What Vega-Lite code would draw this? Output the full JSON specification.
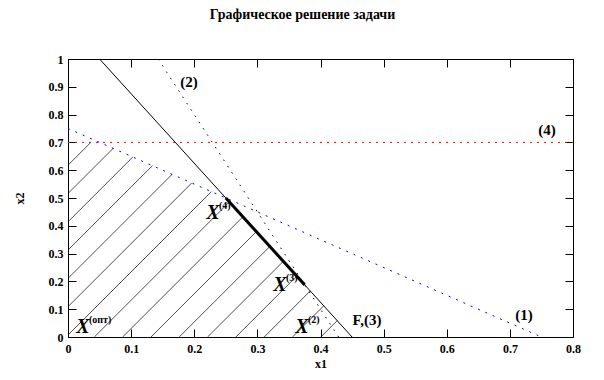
{
  "$schema": "https://vega.github.io/schema/vega-lite/v6.json",
  "width": 505,
  "height": 278,
  "autosize": {"type": "none"},
  "padding": {"left": 68, "top": 59, "right": 31, "bottom": 43},
  "background": "white",
  "title": {
    "text": "Графическое решение задачи",
    "font": "Liberation Serif",
    "fontSize": 14,
    "fontWeight": "bold",
    "color": "black",
    "anchor": "middle",
    "dx": -18,
    "offset": 31
  },
  "config": {
    "view": {"stroke": "black", "strokeWidth": 1},
    "axis": {
      "grid": false,
      "domain": false,
      "tickColor": "black",
      "tickSize": -8,
      "tickWidth": 1,
      "labelFont": "Liberation Serif",
      "labelFontSize": 12,
      "labelFontWeight": "bold",
      "labelColor": "black",
      "titleFont": "Liberation Serif",
      "titleFontSize": 12,
      "titleFontWeight": "bold",
      "titleColor": "black"
    }
  },
  "datasets": {
    "segs": [
      {"id": "1", "x": 0, "y": 0.75, "x2": 0.745, "y2": 0.005},
      {"id": "4", "x": 0, "y": 0.7, "x2": 0.8, "y2": 0.7},
      {"id": "3", "x": 0.05, "y": 1, "x2": 0.45, "y2": 0},
      {"id": "2", "x": 0.142857, "y": 1, "x2": 0.428571, "y2": 0},
      {"id": "opt", "x": 0.25, "y": 0.5, "x2": 0.375, "y2": 0.1875}
    ],
    "hatch": [
      {"k": 6, "x": 0, "y": 0.618, "x2": 0.0361, "y2": 0.7},
      {"k": 5, "x": 0, "y": 0.5162, "x2": 0.0715, "y2": 0.6785},
      {"k": 4, "x": 0, "y": 0.4144, "x2": 0.1026, "y2": 0.6474},
      {"k": 3, "x": 0, "y": 0.3126, "x2": 0.1338, "y2": 0.6162},
      {"k": 2, "x": 0, "y": 0.2108, "x2": 0.1649, "y2": 0.5851},
      {"k": 1, "x": 0, "y": 0.109, "x2": 0.196, "y2": 0.554},
      {"k": 0, "x": 0, "y": 0.0072, "x2": 0.2271, "y2": 0.5229},
      {"k": -1, "x": 0.0417, "y": 0, "x2": 0.2556, "y2": 0.4856},
      {"k": -2, "x": 0.0865, "y": 0, "x2": 0.277, "y2": 0.4324},
      {"k": -3, "x": 0.1314, "y": 0, "x2": 0.2984, "y2": 0.3791},
      {"k": -4, "x": 0.1762, "y": 0, "x2": 0.3197, "y2": 0.3255},
      {"k": -5, "x": 0.2211, "y": 0, "x2": 0.3411, "y2": 0.2723},
      {"k": -6, "x": 0.2659, "y": 0, "x2": 0.3624, "y2": 0.2191},
      {"k": -7, "x": 0.3108, "y": 0, "x2": 0.3837, "y2": 0.1655},
      {"k": -8, "x": 0.3556, "y": 0, "x2": 0.4051, "y2": 0.1122},
      {"k": -9, "x": 0.4005, "y": 0, "x2": 0.4265, "y2": 0.059}
    ],
    "notes": [
      {"t": "(2)", "x": 0.1917, "y": 0.917},
      {"t": "(4)", "x": 0.7588, "y": 0.745},
      {"t": "(1)", "x": 0.7224, "y": 0.079},
      {"t": "F,(3)", "x": 0.4737, "y": 0.061}
    ],
    "points": [
      {"b": "X", "s": "(4)", "x": 0.2297, "y": 0.446},
      {"b": "X", "s": "(3)", "x": 0.3358, "y": 0.187},
      {"b": "X", "s": "(2)", "x": 0.3707, "y": 0.036},
      {"b": "X", "s": "(опт)", "x": 0.0238, "y": 0.036}
    ]
  },
  "resolve": {"axis": {"x": "independent", "y": "independent"}},
  "layer": [
    {
      "data": {"name": "hatch"},
      "mark": {"type": "rule", "color": "black", "strokeWidth": 0.7},
      "encoding": {
        "x": {"field": "x", "type": "quantitative", "scale": {"domain": [0, 0.8], "nice": false, "zero": false},
              "axis": {"orient": "bottom", "values": [0, 0.1, 0.2, 0.3, 0.4, 0.5, 0.6, 0.7, 0.8], "format": "~g", "labelPadding": 14, "title": "x1", "titlePadding": 4, "labelFlush": false}},
        "y": {"field": "y", "type": "quantitative", "scale": {"domain": [0, 1], "nice": false, "zero": false},
              "axis": {"orient": "left", "values": [0, 0.1, 0.2, 0.3, 0.4, 0.5, 0.6, 0.7, 0.8, 0.9, 1], "format": "~g", "labelPadding": 13, "title": "x2", "titlePadding": 22, "labelFlush": false}},
        "x2": {"field": "x2"},
        "y2": {"field": "y2"}
      }
    },
    {
      "data": {"name": "segs"},
      "transform": [{"filter": "datum.id === '3'"}],
      "mark": {"type": "rule", "color": "black", "strokeWidth": 1},
      "encoding": {
        "x": {"field": "x", "type": "quantitative",
              "axis": {"orient": "top", "values": [0, 0.1, 0.2, 0.3, 0.4, 0.5, 0.6, 0.7, 0.8], "labels": false, "title": null}},
        "y": {"field": "y", "type": "quantitative",
              "axis": {"orient": "right", "values": [0, 0.1, 0.2, 0.3, 0.4, 0.5, 0.6, 0.7, 0.8, 0.9, 1], "labels": false, "title": null}},
        "x2": {"field": "x2"},
        "y2": {"field": "y2"}
      }
    },
    {
      "data": {"name": "segs"},
      "transform": [{"filter": "datum.id === '1'"}],
      "mark": {"type": "rule", "color": "#0000ff", "strokeWidth": 1, "strokeDash": [2, 6]},
      "encoding": {
        "x": {"field": "x", "type": "quantitative", "axis": null},
        "y": {"field": "y", "type": "quantitative", "axis": null},
        "x2": {"field": "x2"},
        "y2": {"field": "y2"}
      }
    },
    {
      "data": {"name": "segs"},
      "transform": [{"filter": "datum.id === '4'"}],
      "mark": {"type": "rule", "color": "#ff0000", "strokeWidth": 1, "strokeDash": [2, 5]},
      "encoding": {
        "x": {"field": "x", "type": "quantitative", "axis": null},
        "y": {"field": "y", "type": "quantitative", "axis": null},
        "x2": {"field": "x2"},
        "y2": {"field": "y2"}
      }
    },
    {
      "data": {"name": "segs"},
      "transform": [{"filter": "datum.id === '2'"}],
      "mark": {"type": "rule", "color": "black", "strokeWidth": 1, "strokeDash": [1.5, 6]},
      "encoding": {
        "x": {"field": "x", "type": "quantitative", "axis": null},
        "y": {"field": "y", "type": "quantitative", "axis": null},
        "x2": {"field": "x2"},
        "y2": {"field": "y2"}
      }
    },
    {
      "data": {"name": "segs"},
      "transform": [{"filter": "datum.id === 'opt'"}],
      "mark": {"type": "rule", "color": "black", "strokeWidth": 3},
      "encoding": {
        "x": {"field": "x", "type": "quantitative", "axis": null},
        "y": {"field": "y", "type": "quantitative", "axis": null},
        "x2": {"field": "x2"},
        "y2": {"field": "y2"}
      }
    },
    {
      "data": {"name": "notes"},
      "mark": {"type": "text", "font": "Liberation Serif", "fontSize": 15, "fontWeight": "bold", "color": "black", "align": "center", "baseline": "middle"},
      "encoding": {
        "x": {"field": "x", "type": "quantitative", "axis": null},
        "y": {"field": "y", "type": "quantitative", "axis": null},
        "text": {"field": "t"}
      }
    },
    {
      "data": {"name": "points"},
      "mark": {"type": "text", "font": "Liberation Serif", "fontSize": 20, "fontWeight": "bold", "fontStyle": "italic", "color": "black", "align": "center", "baseline": "middle"},
      "encoding": {
        "x": {"field": "x", "type": "quantitative", "axis": null},
        "y": {"field": "y", "type": "quantitative", "axis": null},
        "text": {"field": "b"}
      }
    },
    {
      "data": {"name": "points"},
      "mark": {"type": "text", "font": "Liberation Serif", "fontSize": 10, "fontWeight": "bold", "color": "black", "align": "left", "baseline": "middle", "dx": 6, "dy": -7},
      "encoding": {
        "x": {"field": "x", "type": "quantitative", "axis": null},
        "y": {"field": "y", "type": "quantitative", "axis": null},
        "text": {"field": "s"}
      }
    }
  ]
}
